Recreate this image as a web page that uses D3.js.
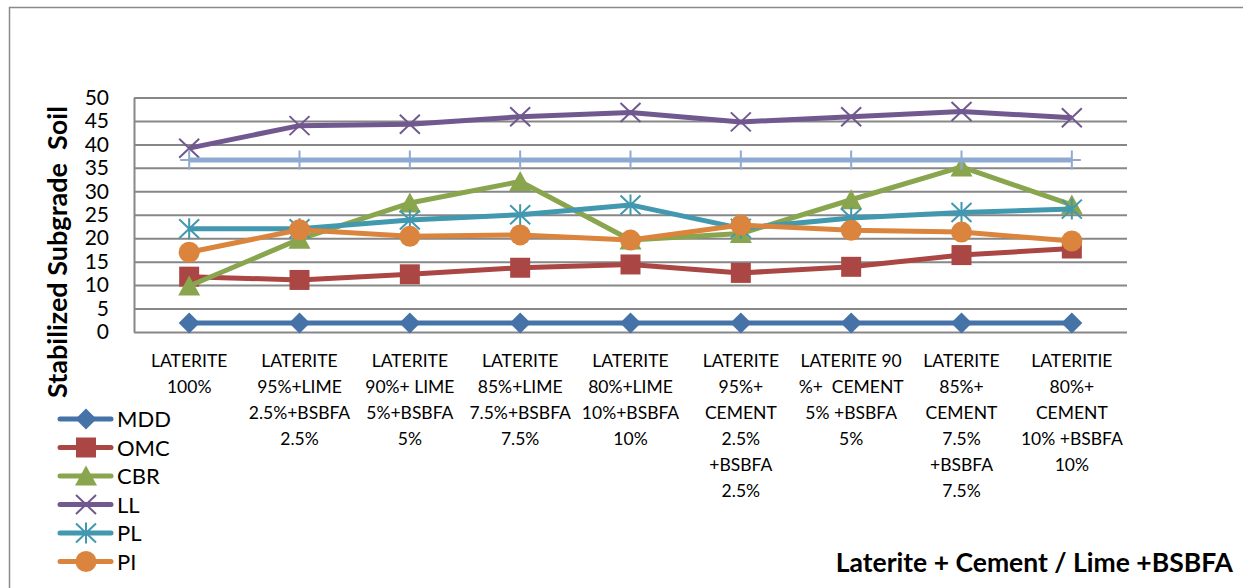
<!DOCTYPE html>
<html>
<head>
<meta charset="utf-8">
<script src="https://cdn.jsdelivr.net/npm/d3@7"></script>
<style>
  html, body { margin: 0; padding: 0; background: #fff; }
  svg { display: block; }
</style>
</head>
<body>
<div id="chart"></div>
<script>
// categories (multi-line labels as in the original)
const categories = [
    ["LATERITE", "100%"],
    ["LATERITE", "95%+LIME", "2.5%+BSBFA", "2.5%"],
    ["LATERITE", "90%+ LIME", "5%+BSBFA", "5%"],
    ["LATERITE", "85%+LIME", "7.5%+BSBFA", "7.5%"],
    ["LATERITE", "80%+LIME", "10%+BSBFA", "10%"],
    ["LATERITE", "95%+", "CEMENT", "2.5%", "+BSBFA", "2.5%"],
    ["LATERITE 90", "%+  CEMENT", "5% +BSBFA", "5%"],
    ["LATERITE", "85%+", "CEMENT", "7.5%", "+BSBFA", "7.5%"],
    ["LATERITIE", "80%+", "CEMENT", "10% +BSBFA", "10%"]
];
const yTicks = [0, 5, 10, 15, 20, 25, 30, 35, 40, 45, 50];

// series values
const mdd = [1.9, 1.9, 1.9, 1.9, 1.9, 1.9, 1.9, 1.9, 1.9];
const omc = [11.8, 11.1, 12.3, 13.7, 14.4, 12.6, 13.9, 16.4, 17.8];
const cbr = [9.8, 19.8, 27.5, 32.1, 19.6, 21.0, 28.2, 35.2, 27.1];
const ll = [39.2, 44.0, 44.3, 45.9, 46.8, 44.8, 45.9, 47.0, 45.7];
const pl = [22.0, 22.0, 23.9, 25.0, 27.1, 22.1, 24.3, 25.5, 26.2];
const pi = [17.0, 21.8, 20.4, 20.7, 19.6, 22.8, 21.7, 21.3, 19.4];
const series7 = [36.7, 36.7, 36.7, 36.7, 36.7, 36.7, 36.7, 36.7, 36.7]; // unlabeled light-blue series

const seriesNames = ["MDD", "OMC", "CBR", "LL", "PL", "PI"];
const seriesValues = [mdd, omc, cbr, ll, pl, pi];

// Excel 2007 style colours + marker types
const colors = ["#4572a7", "#aa4643", "#89a54e", "#71588f", "#4198af", "#db843d"];
const markers = ["diamond", "square", "triangle", "x", "asterisk", "circle"];

const width = 1243;
const height = 588;
const margin = { top: 97.5, right: 116, bottom: 256, left: 134 };
const innerWidth = width - margin.left - margin.right;
const innerHeight = height - margin.top - margin.bottom;
const font = "Lato, 'Open Sans', sans-serif";

const svg = d3.select("#chart").append("svg")
    .attr("width", width)
    .attr("height", height)
    .attr("viewBox", `0 0 ${width} ${height}`)
    .attr("font-family", font);

svg.append("rect").attr("width", width).attr("height", height).attr("fill", "#fff");

// outer chart frame (only left / top edges visible in the crop)
svg.append("path")
    .attr("d", `M9.5,${height}V7.5H${width}`)
    .attr("fill", "none")
    .attr("stroke", "#8a8a8a")
    .attr("stroke-width", 1.5);

const x = d3.scaleBand()
    .domain(categories.map((d, i) => i))
    .range([0, innerWidth]);

const y = d3.scaleLinear()
    .domain([0, 50])
    .range([innerHeight, 0]);

const g = svg.append("g")
    .attr("transform", `translate(${margin.left},${margin.top})`);

// gridlines
g.append("g")
    .call(d3.axisLeft(y).tickValues(yTicks).tickSize(-innerWidth).tickFormat(""))
    .call(s => s.select(".domain").remove())
    .call(s => s.selectAll("text").remove())
    .call(s => s.selectAll("line").attr("stroke", "#878787").attr("stroke-width", 2));

// y axis
g.append("g")
    .call(d3.axisLeft(y).tickValues(yTicks).tickSize(0).tickSizeOuter(0).tickPadding(25))
    .attr("font-size", 21)
    .attr("font-family", font)
    .call(s => s.select(".domain").attr("stroke", "#878787").attr("stroke-width", 2))
    .call(s => s.selectAll("text").attr("fill", "#000"));

// x axis labels, one text per line
const xAxis = g.append("g")
    .attr("transform", `translate(0,${innerHeight})`)
    .call(d3.axisBottom(x).tickSize(0).tickFormat(""))
    .attr("font-size", 17.5)
    .attr("font-family", font)
    .call(s => s.select(".domain").remove())
    .call(s => s.selectAll("text").remove());

xAxis.selectAll(".tick").each(function(d) {
    d3.select(this).selectAll("text.lbl")
        .data(categories[d])
        .enter()
        .append("text")
        .attr("class", "lbl")
        .attr("text-anchor", "middle")
        .attr("fill", "#000")
        .attr("y", (t, k) => 35 + k * 26)
        .style("white-space", "pre")
        .text(t => t);
});

// marker shapes
function markerPath(type) {
    switch (type) {
        case "diamond": return "M0,-10.5L10.5,0L0,10.5L-10.5,0Z";
        case "square": return "M-10,-10H10V10H-10Z";
        case "triangle": return "M0,-10.5L11,9.5L-11,9.5Z";
        case "x": return "M-10,-9.5L10,9.5M-10,9.5L10,-9.5";
        case "asterisk": return "M-10,-9.5L10,9.5M-10,9.5L10,-9.5M0,-10.5V10.5";
        case "plus": return "M-9,0H9M0,-9.5V9.5";
        case "circle": return d3.symbol(d3.symbolCircle, Math.PI * 110)();
    }
}
const strokedMarkers = ["x", "asterisk", "plus"];

function drawMarker(sel, type, color) {
    const p = sel.append("path").attr("d", markerPath(type));
    if (strokedMarkers.includes(type)) {
        p.attr("fill", "none").attr("stroke", color).attr("stroke-width", 2);
    } else {
        p.attr("fill", color).attr("stroke", "none");
    }
    return p;
}

const line = d3.line()
    .x((d, i) => x(i) + x.bandwidth() / 2)
    .y(d => y(d));

const allSeries = seriesValues.map((v, i) => ({
    name: seriesNames[i], values: v, color: colors[i], marker: markers[i]
}));
allSeries.push({ name: "", values: series7, color: "#8eaad2", marker: "plus" });

allSeries.forEach(s => {
    const sg = g.append("g");
    sg.append("path")
        .datum(s.values)
        .attr("d", line)
        .attr("fill", "none")
        .attr("stroke", s.color)
        .attr("stroke-width", 5)
        .attr("stroke-linejoin", "round");
    s.values.forEach((v, i) => {
        const m = sg.append("g")
            .attr("transform", `translate(${x(i) + x.bandwidth() / 2},${y(v)})`);
        drawMarker(m, s.marker, s.color);
    });
});

// legend
const legend = svg.append("g").attr("transform", "translate(58,419)");
seriesNames.forEach((name, i) => {
    const row = legend.append("g").attr("transform", `translate(0,${i * 28.5})`);
    row.append("line")
        .attr("x1", 2).attr("x2", 53)
        .attr("stroke", colors[i])
        .attr("stroke-width", 5)
        .attr("stroke-linecap", "round");
    const m = row.append("g").attr("transform", "translate(28,0)");
    drawMarker(m, markers[i], colors[i]);
    row.append("text")
        .attr("x", 59)
        .attr("y", 8)
        .attr("fill", "#000")
        .attr("font-size", 22)
        .text(name);
});

// axis titles
svg.append("text")
    .attr("transform", "translate(67,252) rotate(-90)")
    .attr("text-anchor", "middle")
    .attr("fill", "#000")
    .attr("font-size", 27)
    .attr("font-weight", "bold")
    .style("white-space", "pre")
    .text("Stabilized Subgrade  Soil");

svg.append("text")
    .attr("x", 1233)
    .attr("y", 572)
    .attr("text-anchor", "end")
    .attr("fill", "#000")
    .attr("font-size", 26.5)
    .attr("font-weight", "bold")
    .text("Laterite + Cement / Lime +BSBFA");
</script>
</body>
</html>
